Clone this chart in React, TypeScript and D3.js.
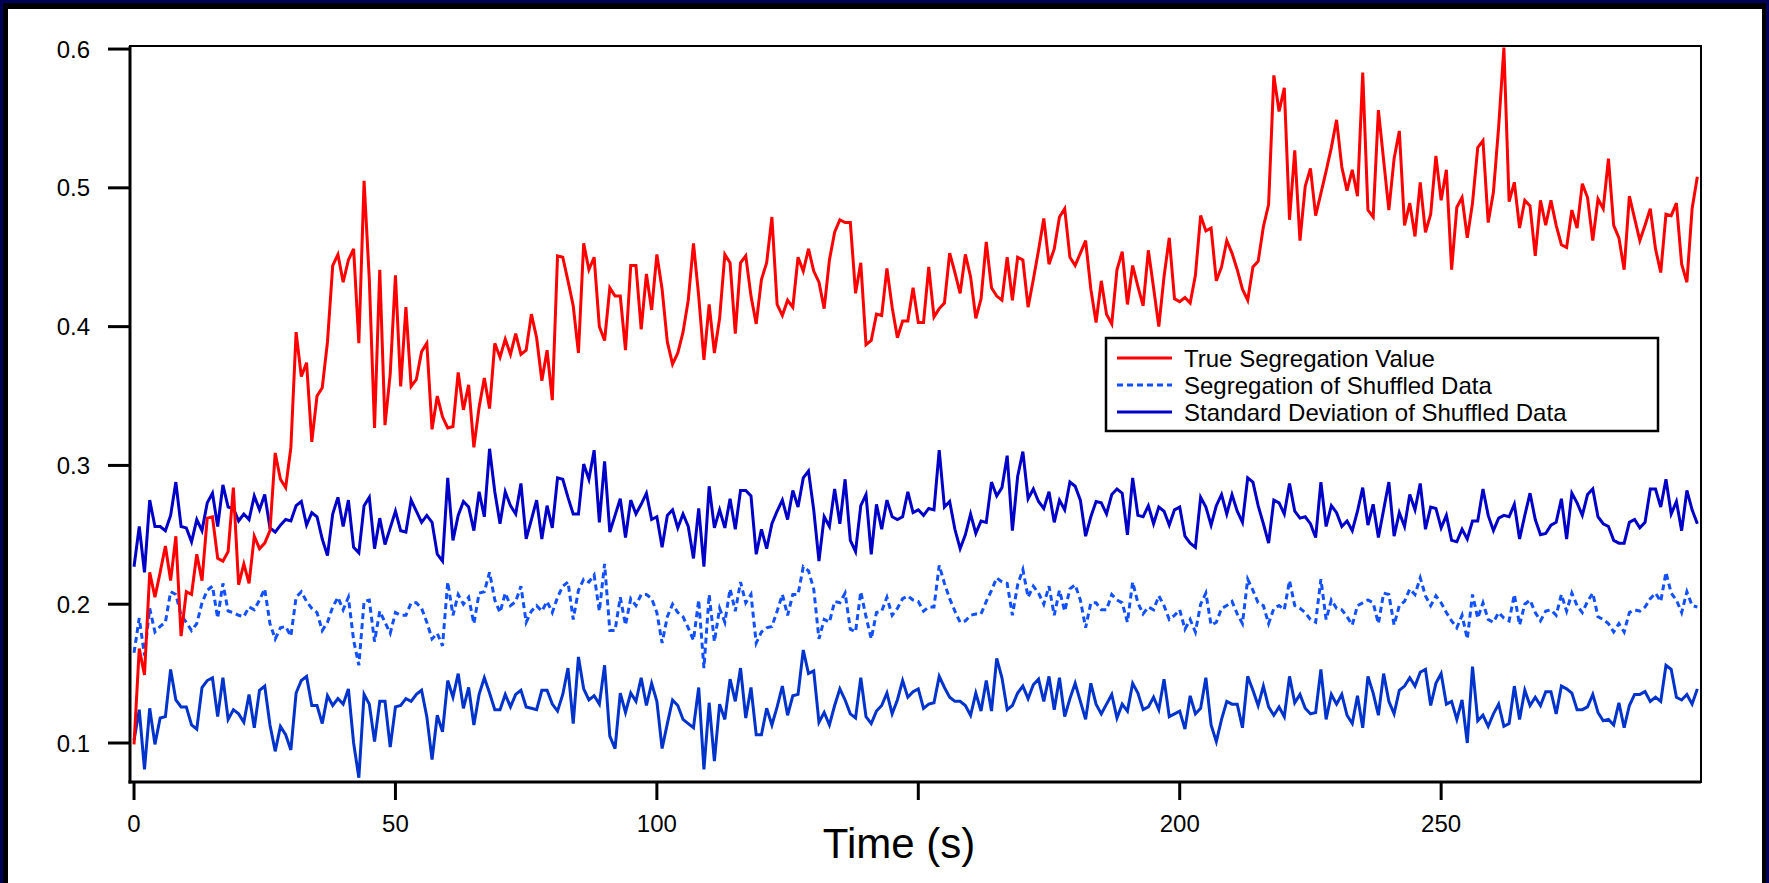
import React from "react";
import * as d3 from "d3";

const W = 1769;
const H = 883;

const timeStart = 0;

const trueSegregation = [
  0.099,0.168,0.149,0.223,0.205,0.223,0.242,0.217,0.249,0.177,
  0.209,0.207,0.236,0.217,0.262,0.263,0.233,0.231,0.238,0.284,
  0.214,0.229,0.215,0.249,0.240,0.244,0.253,0.309,0.290,0.284,
  0.313,0.396,0.364,0.374,0.317,0.350,0.356,0.389,0.444,0.452,
  0.432,0.448,0.456,0.388,0.505,0.434,0.327,0.441,0.329,0.366,
  0.437,0.357,0.414,0.357,0.362,0.382,0.388,0.326,0.350,0.335,
  0.327,0.328,0.367,0.340,0.358,0.313,0.342,0.363,0.341,0.388,
  0.378,0.391,0.380,0.395,0.380,0.383,0.409,0.392,0.361,0.383,
  0.347,0.451,0.450,0.433,0.415,0.381,0.460,0.441,0.450,0.400,
  0.390,0.428,0.422,0.422,0.383,0.444,0.444,0.398,0.438,0.412,
  0.452,0.427,0.389,0.373,0.381,0.396,0.419,0.460,0.422,0.376,
  0.416,0.381,0.406,0.452,0.446,0.395,0.446,0.451,0.422,0.402,
  0.434,0.446,0.479,0.416,0.408,0.419,0.414,0.450,0.440,0.456,
  0.440,0.432,0.413,0.448,0.468,0.477,0.475,0.475,0.424,0.446,
  0.387,0.390,0.409,0.408,0.442,0.414,0.392,0.404,0.404,0.428,
  0.403,0.403,0.443,0.407,0.413,0.417,0.453,0.439,0.424,0.452,
  0.436,0.406,0.420,0.461,0.428,0.422,0.419,0.450,0.419,0.450,
  0.448,0.414,0.434,0.455,0.478,0.445,0.456,0.479,0.485,0.450,
  0.444,0.453,0.462,0.427,0.403,0.433,0.409,0.402,0.441,0.454,
  0.416,0.444,0.429,0.415,0.455,0.428,0.400,0.436,0.464,0.420,
  0.418,0.421,0.417,0.437,0.480,0.469,0.471,0.433,0.443,0.462,
  0.453,0.441,0.427,0.419,0.443,0.447,0.472,0.488,0.581,0.555,
  0.572,0.477,0.527,0.462,0.501,0.514,0.480,0.496,0.512,0.529,
  0.549,0.515,0.498,0.513,0.494,0.583,0.484,0.479,0.556,0.520,
  0.484,0.521,0.541,0.473,0.489,0.465,0.504,0.468,0.481,0.523,
  0.491,0.513,0.441,0.486,0.493,0.464,0.489,0.529,0.534,0.475,
  0.497,0.544,0.601,0.490,0.504,0.471,0.491,0.487,0.451,0.491,
  0.473,0.491,0.473,0.459,0.457,0.484,0.471,0.503,0.493,0.462,
  0.492,0.485,0.521,0.473,0.464,0.441,0.494,0.478,0.462,0.473,
  0.485,0.456,0.439,0.481,0.480,0.489,0.445,0.432,0.485,0.508,
];

const stdUpper = [
  0.227,0.256,0.223,0.275,0.256,0.256,0.253,0.264,0.288,0.256,
  0.255,0.245,0.261,0.253,0.273,0.280,0.256,0.286,0.270,0.269,
  0.260,0.265,0.261,0.278,0.268,0.279,0.255,0.252,0.257,0.261,
  0.260,0.271,0.274,0.257,0.266,0.263,0.247,0.235,0.265,0.277,
  0.256,0.275,0.241,0.237,0.271,0.277,0.240,0.262,0.243,0.255,
  0.267,0.253,0.252,0.275,0.267,0.259,0.264,0.259,0.236,0.231,
  0.291,0.246,0.264,0.274,0.270,0.253,0.281,0.263,0.312,0.281,
  0.258,0.281,0.271,0.265,0.287,0.247,0.261,0.275,0.247,0.271,
  0.255,0.291,0.290,0.277,0.265,0.265,0.301,0.290,0.311,0.259,
  0.303,0.252,0.264,0.276,0.248,0.275,0.265,0.272,0.280,0.261,
  0.263,0.241,0.264,0.268,0.255,0.265,0.256,0.233,0.269,0.227,
  0.285,0.255,0.268,0.255,0.276,0.254,0.282,0.282,0.278,0.236,
  0.254,0.240,0.258,0.267,0.275,0.261,0.282,0.270,0.291,0.296,
  0.268,0.231,0.263,0.256,0.283,0.258,0.290,0.246,0.238,0.271,
  0.279,0.236,0.272,0.254,0.275,0.263,0.261,0.263,0.281,0.266,
  0.268,0.264,0.269,0.268,0.311,0.270,0.274,0.254,0.240,0.250,
  0.265,0.251,0.260,0.259,0.288,0.278,0.284,0.307,0.253,0.292,
  0.310,0.276,0.283,0.274,0.269,0.281,0.259,0.275,0.268,0.288,
  0.285,0.275,0.249,0.263,0.274,0.273,0.265,0.279,0.283,0.280,
  0.250,0.291,0.264,0.263,0.271,0.258,0.270,0.267,0.257,0.268,
  0.270,0.249,0.244,0.241,0.277,0.270,0.257,0.271,0.279,0.265,
  0.279,0.267,0.259,0.291,0.288,0.271,0.258,0.244,0.275,0.273,
  0.265,0.287,0.267,0.262,0.263,0.258,0.248,0.288,0.256,0.271,
  0.266,0.256,0.260,0.253,0.267,0.284,0.257,0.272,0.248,0.268,
  0.288,0.249,0.266,0.256,0.279,0.268,0.287,0.254,0.270,0.269,
  0.255,0.264,0.246,0.245,0.254,0.247,0.260,0.260,0.283,0.264,
  0.253,0.262,0.264,0.263,0.272,0.247,0.264,0.280,0.261,0.250,
  0.251,0.257,0.259,0.276,0.247,0.280,0.273,0.264,0.279,0.283,
  0.263,0.258,0.256,0.246,0.244,0.244,0.259,0.261,0.255,0.259,
  0.283,0.283,0.270,0.290,0.265,0.274,0.253,0.282,0.268,0.258,
];

const stdLower = [
  0.102,0.124,0.081,0.125,0.099,0.118,0.119,0.153,0.131,0.126,
  0.126,0.113,0.110,0.140,0.145,0.147,0.119,0.147,0.117,0.124,
  0.121,0.115,0.135,0.111,0.138,0.141,0.113,0.094,0.112,0.106,
  0.095,0.136,0.145,0.148,0.127,0.127,0.114,0.134,0.127,0.132,
  0.128,0.139,0.100,0.075,0.135,0.128,0.101,0.130,0.130,0.097,
  0.126,0.127,0.132,0.130,0.135,0.138,0.119,0.088,0.120,0.108,
  0.145,0.133,0.150,0.125,0.140,0.113,0.135,0.147,0.136,0.124,
  0.124,0.135,0.126,0.135,0.138,0.126,0.125,0.124,0.138,0.138,
  0.128,0.123,0.135,0.154,0.114,0.162,0.139,0.131,0.134,0.128,
  0.156,0.105,0.096,0.136,0.122,0.136,0.130,0.147,0.127,0.143,
  0.130,0.096,0.114,0.131,0.127,0.117,0.114,0.111,0.140,0.081,
  0.129,0.087,0.128,0.117,0.146,0.130,0.154,0.118,0.140,0.106,
  0.106,0.125,0.113,0.126,0.141,0.120,0.134,0.135,0.167,0.150,
  0.152,0.115,0.122,0.113,0.127,0.139,0.131,0.121,0.118,0.147,
  0.119,0.114,0.123,0.127,0.136,0.121,0.131,0.145,0.133,0.137,
  0.139,0.125,0.128,0.129,0.148,0.140,0.133,0.130,0.130,0.127,
  0.120,0.136,0.123,0.145,0.123,0.161,0.147,0.124,0.127,0.136,
  0.141,0.132,0.142,0.146,0.130,0.148,0.124,0.147,0.119,0.132,
  0.143,0.130,0.117,0.143,0.128,0.121,0.128,0.135,0.118,0.128,
  0.123,0.143,0.136,0.124,0.126,0.133,0.124,0.146,0.119,0.121,
  0.123,0.110,0.134,0.121,0.125,0.147,0.113,0.101,0.117,0.130,
  0.128,0.128,0.111,0.148,0.138,0.127,0.141,0.126,0.120,0.126,
  0.119,0.148,0.129,0.135,0.125,0.121,0.122,0.153,0.117,0.135,
  0.128,0.135,0.120,0.114,0.134,0.111,0.148,0.136,0.120,0.150,
  0.130,0.121,0.138,0.141,0.147,0.141,0.151,0.153,0.127,0.143,
  0.150,0.128,0.130,0.117,0.131,0.100,0.155,0.116,0.120,0.112,
  0.121,0.128,0.112,0.114,0.141,0.117,0.138,0.127,0.133,0.127,
  0.137,0.137,0.121,0.141,0.139,0.136,0.124,0.124,0.126,0.135,
  0.122,0.116,0.117,0.113,0.129,0.111,0.127,0.135,0.135,0.137,
  0.130,0.133,0.130,0.156,0.153,0.133,0.131,0.135,0.128,0.139,
];

const shuffledSegregation = [
  0.165,0.190,0.163,0.197,0.180,0.184,0.187,0.209,0.207,0.192,
  0.187,0.181,0.186,0.201,0.210,0.213,0.190,0.215,0.195,0.194,
  0.192,0.191,0.198,0.196,0.203,0.211,0.186,0.175,0.183,0.184,
  0.177,0.205,0.209,0.202,0.197,0.194,0.181,0.187,0.198,0.205,
  0.196,0.205,0.174,0.156,0.202,0.203,0.173,0.195,0.187,0.179,
  0.194,0.192,0.192,0.201,0.201,0.197,0.187,0.175,0.179,0.170,
  0.216,0.192,0.207,0.200,0.205,0.186,0.208,0.209,0.223,0.203,
  0.194,0.208,0.199,0.202,0.213,0.187,0.195,0.199,0.195,0.202,
  0.194,0.205,0.213,0.216,0.189,0.210,0.218,0.216,0.221,0.195,
  0.229,0.181,0.181,0.205,0.185,0.204,0.199,0.207,0.207,0.204,
  0.194,0.172,0.191,0.200,0.194,0.191,0.183,0.174,0.203,0.154,
  0.207,0.173,0.197,0.187,0.211,0.195,0.216,0.201,0.207,0.172,
  0.180,0.183,0.184,0.195,0.207,0.192,0.207,0.207,0.227,0.224,
  0.211,0.175,0.189,0.187,0.202,0.201,0.208,0.182,0.180,0.209,
  0.191,0.175,0.194,0.195,0.205,0.192,0.197,0.204,0.206,0.203,
  0.202,0.195,0.198,0.198,0.228,0.215,0.204,0.195,0.187,0.188,
  0.192,0.193,0.193,0.202,0.210,0.219,0.216,0.215,0.192,0.214,
  0.225,0.205,0.213,0.208,0.200,0.213,0.192,0.210,0.195,0.211,
  0.214,0.203,0.183,0.201,0.201,0.196,0.196,0.207,0.203,0.201,
  0.187,0.216,0.201,0.193,0.198,0.196,0.206,0.199,0.189,0.192,
  0.196,0.182,0.189,0.180,0.200,0.208,0.185,0.187,0.197,0.199,
  0.202,0.193,0.186,0.218,0.210,0.201,0.199,0.186,0.197,0.199,
  0.196,0.217,0.199,0.197,0.194,0.189,0.187,0.218,0.189,0.203,
  0.197,0.196,0.191,0.185,0.199,0.201,0.203,0.201,0.186,0.208,
  0.207,0.185,0.199,0.202,0.211,0.207,0.219,0.206,0.199,0.206,
  0.201,0.194,0.188,0.183,0.192,0.175,0.207,0.190,0.201,0.189,
  0.187,0.194,0.190,0.188,0.207,0.185,0.200,0.203,0.194,0.188,
  0.195,0.196,0.192,0.207,0.195,0.208,0.199,0.194,0.202,0.208,
  0.191,0.189,0.186,0.180,0.186,0.180,0.194,0.196,0.195,0.198,
  0.204,0.208,0.202,0.223,0.208,0.203,0.194,0.209,0.199,0.198,
];

const xTicks = [0, 50, 100, 150, 200, 250];
const yTicks = [0.1, 0.2, 0.3, 0.4, 0.5, 0.6];
const legendLabels = [
  "True Segregation Value",
  "Segregation of Shuffled Data",
  "Standard Deviation of Shuffled Data",
];
const axisTitle = "Time (s)";

const FONT = "'Liberation Sans', Arial, Helvetica, sans-serif";

export default function App() {
  const left = 130, right = 1701, top = 46, bottom = 782;
  const x = d3.scaleLinear().domain([-0.77, 299.7]).range([left, right]);
  const y = d3.scaleLinear().domain([0.0719, 0.6022]).range([bottom, top]);

  const mk = (arr: number[]) =>
    d3
      .line<number>()
      .x((_, i) => x(timeStart + i))
      .y((v) => y(v))(arr) || "";

  const series = [
    { d: mk(stdLower), color: "#0033cc", dash: undefined as string | undefined },
    { d: mk(stdUpper), color: "#0000c8", dash: undefined },
    { d: mk(shuffledSegregation), color: "#1050ff", dash: "6,4" },
    { d: mk(trueSegregation), color: "#ff0000", dash: undefined },
  ];

  const legendItems = [
    { label: legendLabels[0], color: "#ff0000", dash: undefined as string | undefined },
    { label: legendLabels[1], color: "#1050ff", dash: "6,4" },
    { label: legendLabels[2], color: "#0000c8", dash: undefined },
  ];

  // The axis title is drawn with an opaque background (it hides the tick label under it).
  const titleX = 899;
  const titleW = 170;

  return (
    <svg
      width={W}
      height={H}
      style={{ position: "absolute", left: 0, top: 0, display: "block" }}
      fontFamily={FONT}
    >
      <rect x={0} y={0} width={W} height={H} fill="#000058" />
      <rect x={3} y={3} width={W - 6} height={H} fill="#000000" />
      <rect x={8} y={9} width={1754} height={H} fill="#ffffff" />

      <clipPath id="plotclip">
        <rect x={left} y={top} width={right - left} height={bottom - top} />
      </clipPath>

      <g clipPath="url(#plotclip)" fill="none" strokeLinejoin="miter" strokeLinecap="butt">
        {series.map((s, i) => (
          <path key={i} d={s.d} stroke={s.color} strokeWidth={3} strokeDasharray={s.dash} />
        ))}
      </g>

      <rect
        x={left}
        y={top}
        width={right - left}
        height={bottom - top}
        fill="none"
        stroke="#000"
        strokeWidth={2}
      />
      <line x1={left} x2={left} y1={top} y2={bottom + 1.5} stroke="#000" strokeWidth={3} />
      <line x1={left - 1.5} x2={right} y1={bottom} y2={bottom} stroke="#000" strokeWidth={3} />

      {yTicks.map((t) => (
        <g key={t}>
          <line x1={108} x2={left} y1={y(t)} y2={y(t)} stroke="#000" strokeWidth={3} />
          <text x={90} y={y(t) + 8.5} fontSize={24} textAnchor="end" fill="#000">
            {t.toFixed(1)}
          </text>
        </g>
      ))}

      {xTicks.map((t) => (
        <g key={t}>
          <line x1={x(t)} x2={x(t)} y1={bottom} y2={800} stroke="#000" strokeWidth={3} />
          {Math.abs(x(t) - titleX) > titleW / 2 + 20 && (
            <text x={x(t)} y={831.5} fontSize={24} textAnchor="middle" fill="#000">
              {t}
            </text>
          )}
        </g>
      ))}

      <rect x={titleX - titleW / 2} y={812} width={titleW} height={60} fill="#fff" />
      <text x={titleX} y={858} fontSize={42} textAnchor="middle" fill="#000">
        {axisTitle}
      </text>

      <g>
        <rect x={1106} y={338} width={552} height={93} fill="#fff" stroke="#000" strokeWidth={2.5} />
        {legendItems.map((it, i) => {
          const cy = 358 + i * 27;
          return (
            <g key={i}>
              <line
                x1={1117}
                x2={1172}
                y1={cy}
                y2={cy}
                stroke={it.color}
                strokeWidth={3}
                strokeDasharray={it.dash}
              />
              <text x={1184} y={cy + 8.5} fontSize={24} fill="#000">
                {it.label}
              </text>
            </g>
          );
        })}
      </g>
    </svg>
  );
}
